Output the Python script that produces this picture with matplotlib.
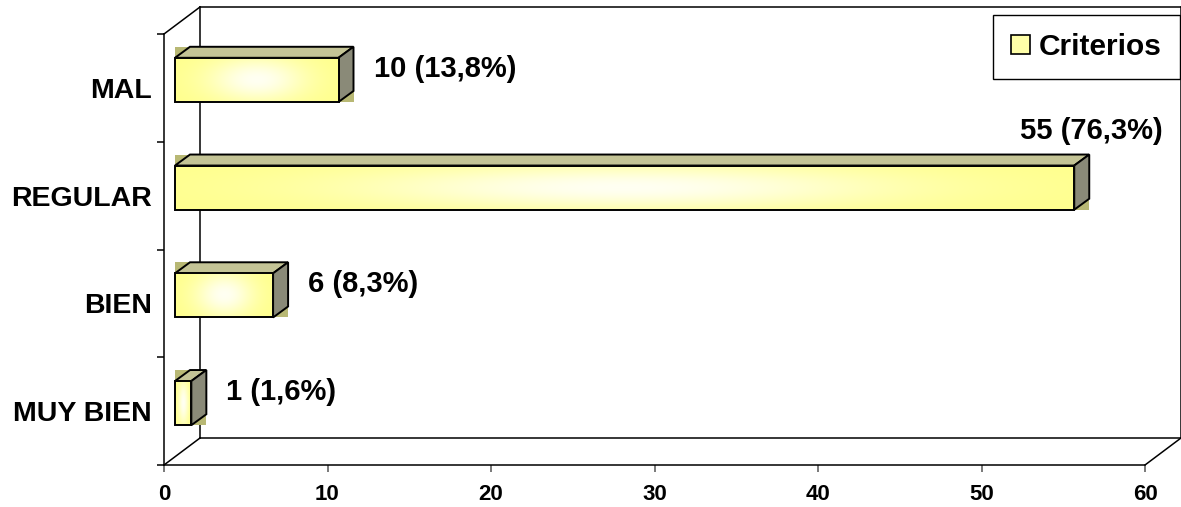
import numpy as np
import matplotlib
matplotlib.use("Agg")
import matplotlib.pyplot as plt
from matplotlib.patches import Polygon, Rectangle, Patch
from matplotlib.lines import Line2D
from matplotlib.transforms import offset_copy, IdentityTransform

# categories from bottom to top
categories = ["MUY BIEN", "BIEN", "REGULAR", "MAL"]
counts = [1, 6, 55, 10]
percents = [1.6, 8.3, 76.3, 13.8]
x_ticks = [0, 10, 20, 30, 40, 50, 60]
series_name = "Criterios"

W, H = 1181, 507
DPI = 100
FONT = "Liberation Sans"

# pseudo-3D depth offsets, in pixels (right, up)
WALL_D = np.array([36.0, 27.0])
BAR_FRONT = np.array([11.0, 8.0])
BAR_BACK = np.array([26.0, 19.0])
BAR_H = 0.41

plt.rcParams["font.family"] = [FONT, "DejaVu Sans"]
plt.rcParams["font.weight"] = "bold"

fig = plt.figure(figsize=(W / DPI, H / DPI), dpi=DPI)
ax = fig.add_axes([164 / W, (H - 465) / H, (1145 - 164) / W, (465 - 34) / H])
ax.set_xlim(0, 60)
ax.set_ylim(-0.5, 3.5)
ax.patch.set_visible(False)

for s in ["top", "right"]:
    ax.spines[s].set_visible(False)
for s in ["left", "bottom"]:
    ax.spines[s].set_linewidth(1.1)

ax.set_xticks(x_ticks)
ax.set_xticklabels([str(t) for t in x_ticks], fontsize=16, fontweight="bold")
ax.tick_params(axis="x", direction="out", length=5, width=1.1, pad=9, color="#555555")
ax.set_yticks(range(len(categories)))
ax.set_yticklabels(categories, fontsize=20.5, fontweight="bold")
ax.set_yticks(np.arange(-0.5, len(categories), 1.0), minor=True)
ax.tick_params(axis="y", which="major", length=0, pad=9)
ax.tick_params(axis="y", which="minor", direction="out", length=5, width=1.1)


def px(x, y, off=(0, 0), trans=None):
    t = ax.transData if trans is None else trans
    return t.transform((x, y)) + np.asarray(off)


ident = IdentityTransform()

# back wall and floor
back = offset_copy(ax.transAxes, fig=fig, x=WALL_D[0], y=WALL_D[1], units="dots")
for xs, ys in [([0, 1], [0, 0]), ([0, 0], [0, 1]), ([1, 1], [0, 1]), ([0, 1], [1, 1])]:
    ax.add_line(Line2D(xs, ys, transform=back, color="black", lw=1.1, clip_on=False, zorder=1))
for cx, cy in [(0, 0), (1, 0), (0, 1)]:
    a = px(cx, cy, trans=ax.transAxes)
    b = px(cx, cy, WALL_D, trans=ax.transAxes)
    ax.add_line(Line2D([a[0], b[0]], [a[1], b[1]], transform=ident,
                       color="black", lw=1.1, clip_on=False, zorder=1))

# gradient for the bar fronts: yellow edges, pale center
gy, gx = np.mgrid[0:1:64j, 0:1:256j]
glow = np.exp(-((gx - 0.5) / 0.3) ** 2 - ((gy - 0.5) / 0.5) ** 2)
yellow = np.array([1.0, 1.0, 0.55])
white = np.array([1.0, 1.0, 0.95])
grad = yellow + (white - yellow) * glow[..., None]

front = offset_copy(ax.transData, fig=fig, x=BAR_FRONT[0], y=BAR_FRONT[1], units="dots")

for i, v in enumerate(counts):
    y0, y1 = i - BAR_H / 2, i + BAR_H / 2

    # olive backing behind the box
    lo = px(0, y0, BAR_FRONT)
    hi = px(v, y1, BAR_BACK)
    ax.add_patch(Rectangle(lo, hi[0] - lo[0], hi[1] - lo[1], transform=ident,
                           facecolor="#b8b874", edgecolor="none", clip_on=False, zorder=2))

    top = [px(0, y1, BAR_FRONT), px(v, y1, BAR_FRONT), px(v, y1, BAR_BACK), px(0, y1, BAR_BACK)]
    ax.add_patch(Polygon(top, closed=True, transform=ident, facecolor="#c4c496",
                         edgecolor="black", lw=1.4, clip_on=False, zorder=2.5))
    side = [px(v, y0, BAR_FRONT), px(v, y1, BAR_FRONT), px(v, y1, BAR_BACK), px(v, y0, BAR_BACK)]
    ax.add_patch(Polygon(side, closed=True, transform=ident, facecolor="#8a8a78",
                         edgecolor="black", lw=1.4, clip_on=False, zorder=2.5))

    bar = ax.barh(i, v, height=BAR_H, left=0, transform=front, facecolor="none",
                  edgecolor="black", linewidth=1.4, zorder=4, clip_on=False)[0]
    im = ax.imshow(grad, extent=[0, v, y0, y1], aspect="auto", transform=front,
                   interpolation="bilinear", zorder=3, clip_on=False)
    im.set_clip_path(bar)

ax.set_xlim(0, 60)
ax.set_ylim(-0.5, 3.5)

# value labels
for i, (v, p) in enumerate(zip(counts, percents)):
    txt = f"{v} ({p:.1f}%)".replace(".", ",")
    if v == max(counts):
        ax.annotate(txt, (v, i), xytext=(99, 65), textcoords="offset pixels",
                    ha="right", va="center", fontsize=21, fontweight="bold")
    else:
        ax.annotate(txt, (v, i), xytext=(46, 19), textcoords="offset pixels",
                    ha="left", va="center", fontsize=21, fontweight="bold")

handle = Patch(facecolor="#ffffa8", edgecolor="black", linewidth=1.2)
fig.legend([handle], [series_name], loc="upper right",
           bbox_to_anchor=(1180 / W, 1 - 15 / H), bbox_transform=fig.transFigure,
           borderaxespad=0, fancybox=False, framealpha=1, edgecolor="black",
           borderpad=0.6, handlelength=0.64, handleheight=0.64, handletextpad=0.3,
           prop={"family": FONT, "weight": "bold", "size": 21.5})

fig.savefig("out.png", dpi=DPI)
